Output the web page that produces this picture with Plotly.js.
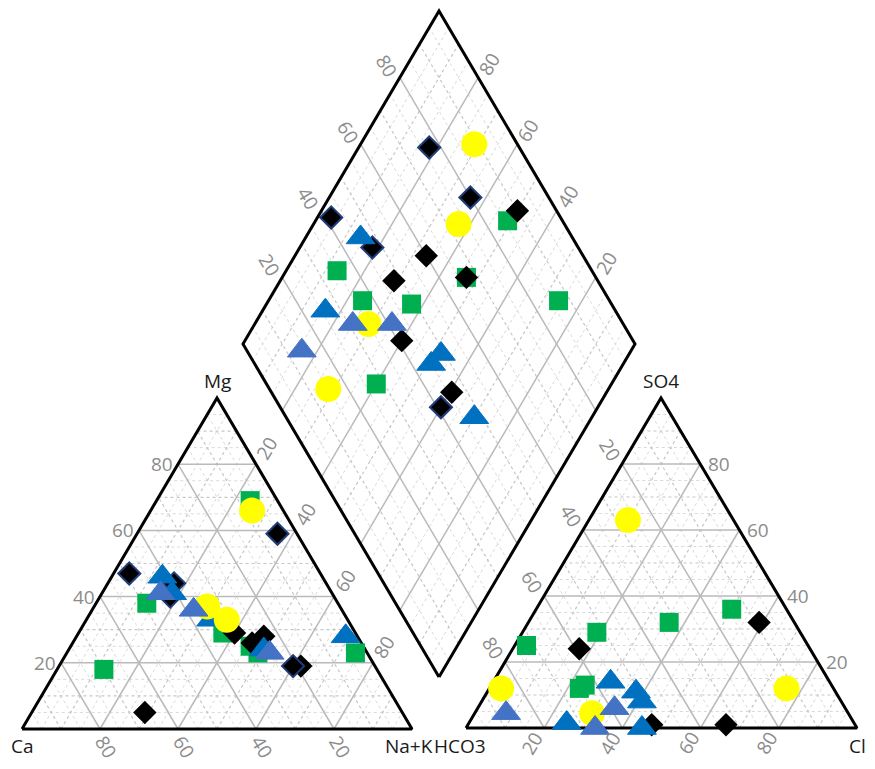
<!DOCTYPE html>
<html>
<head>
<meta charset="utf-8">
<script src="https://cdn.plot.ly/plotly-3.0.1.min.js"></script>
<style>
  body { margin: 0; background: #fff; }
  #piper { width: 875px; height: 769px; }
</style>
</head>
<body>
<div id="piper"></div>
<script>
// ---- cation triangle (left): % Mg, % Na+K ----
const catGreenMg   = [69, 38, 29, 25, 23, 23, 18];
const catGreenNaK  = [24, 13, 37, 46, 49, 74, 12];
const catBlackMg   = [29, 26, 28, 19, 5];
const catBlackNaK  = [40, 46, 48, 62, 29];
const catNavyMg    = [59, 47, 44, 40, 19];
const catNavyNaK   = [36, 4, 17, 18, 60];
const catBlueMg    = [46, 41, 33, 24, 28];
const catBlueNaK   = [13, 18, 32, 50, 69];
const catSteelMg   = [41, 36, 23];
const catSteelNaK  = [15, 26, 52];
const catYellowMg  = [66, 37, 33];
const catYellowNaK = [26, 29, 36];

// ---- anion triangle (right): % SO4, % Cl ----
const anGreenSO4   = [36, 32, 29, 25, 12, 13];
const anGreenCl    = [50, 36, 19, 3, 23, 24];
const anBlackSO4   = [24, 32, 1, 1];
const anBlackCl    = [17, 59, 47, 66];
const anBlueSO4    = [14, 11, 8, 1.5, 0];
const anBlueCl     = [30, 38, 41, 25, 45];
const anSteelSO4   = [6, 4.5, 0];
const anSteelCl    = [35, 8, 33];
const anYellowSO4  = [63, 12, 4.5, 12];
const anYellowCl   = [10, 3, 30, 76];

// ---- diamond: % (SO4+Cl), % (Ca+Mg) ----
const diaGreenS    = [86, 35, 67, 37, 49, 87, 28];
const diaGreenCM   = [51, 87, 53, 76, 63, 26, 60];
const diaBlackS    = [90, 60, 67, 48, 41, 46];
const diaBlackCM   = [50, 66.5, 53, 71, 60, 39.5];
const diaNavyS     = [77, 80, 41.5, 47.5, 41];
const diaNavyCM    = [82, 64, 96.5, 81.5, 40];
const diaBlueS     = [46, 26, 49, 45, 48];
const diaBlueCM    = [86, 84, 48, 49, 30];
const diaSteelS    = [31, 41, 14];
const diaSteelCM   = [75, 65, 84];
const diaYellowS   = [89, 73, 35, 15];
const diaYellowCM  = [71, 63, 71, 71.5];

const tickVals = [20, 40, 60, 80];

/* -----------------------------
   Geometry of the three plots
------------------------------*/
const CAT = { ca: [22, 729], nak: [412, 729], mg: [217, 398] };
const AN  = { hco3: [466, 728], cl: [857, 728], so4: [661, 398] };
const DIA = { bottom: [439, 677], left: [243, 344], right: [635, 344] };

function catXY(mg, nak) {
    const m = mg / 100, n = nak / 100, c = 1 - m - n;
    return [CAT.ca[0] * c + CAT.nak[0] * n + CAT.mg[0] * m,
            CAT.ca[1] * c + CAT.nak[1] * n + CAT.mg[1] * m];
}
function anXY(so4, cl) {
    const s = so4 / 100, c = cl / 100, h = 1 - s - c;
    return [AN.hco3[0] * h + AN.cl[0] * c + AN.so4[0] * s,
            AN.hco3[1] * h + AN.cl[1] * c + AN.so4[1] * s];
}
function diaXY(s, cm) {
    const a = s / 100, b = cm / 100, B = DIA.bottom;
    return [B[0] + a * (DIA.right[0] - B[0]) + b * (DIA.left[0] - B[0]),
            B[1] + a * (DIA.right[1] - B[1]) + b * (DIA.left[1] - B[1])];
}

/* -----------------------------
   Grid lines
------------------------------*/
const grid = { minor: { x: [], y: [] }, mid: { x: [], y: [] }, major: { x: [], y: [] } };

function addSeg(level, p, q) {
    grid[level].x.push(p[0], q[0], null);
    grid[level].y.push(p[1], q[1], null);
}

for (let k = 5; k < 100; k += 5) {
    const level = k % 20 === 0 ? "major" : (k % 10 === 0 ? "mid" : "minor");
    // cations
    addSeg(level, catXY(k, 0), catXY(k, 100 - k));
    addSeg(level, catXY(0, 100 - k), catXY(100 - k, 0));
    addSeg(level, catXY(0, k), catXY(100 - k, k));
    // anions
    addSeg(level, anXY(k, 0), anXY(k, 100 - k));
    addSeg(level, anXY(0, 100 - k), anXY(100 - k, 0));
    addSeg(level, anXY(0, k), anXY(100 - k, k));
    // diamond
    addSeg(level, diaXY(k, 0), diaXY(k, 100));
    addSeg(level, diaXY(0, k), diaXY(100, k));
}

function outline() {
    const pts = [catXY(0, 0), catXY(0, 100), catXY(100, 0), catXY(0, 0), null,
                 anXY(0, 0), anXY(0, 100), anXY(100, 0), anXY(0, 0), null,
                 diaXY(0, 0), diaXY(100, 0), diaXY(100, 100), diaXY(0, 100), diaXY(0, 0)];
    return {
        x: pts.map(p => p ? p[0] : null),
        y: pts.map(p => p ? p[1] : null)
    };
}

/* -----------------------------
   Sample markers
------------------------------*/
function groupXY(catMg, catNaK, anSO4, anCl, diaS, diaCM) {
    const pts = [];
    catMg.forEach((m, i) => pts.push(catXY(m, catNaK[i])));
    anSO4.forEach((s, i) => pts.push(anXY(s, anCl[i])));
    diaS.forEach((s, i) => pts.push(diaXY(s, diaCM[i])));
    return { x: pts.map(p => p[0]), y: pts.map(p => p[1]) };
}

function markerTrace(xy, marker) {
    return { type: "scatter", mode: "markers", x: xy.x, y: xy.y, marker, hoverinfo: "skip", cliponaxis: false };
}

const traces = [
    { type: "scatter", mode: "lines", x: grid.minor.x, y: grid.minor.y,
      line: { color: "#d9d9d9", width: 1, dash: "dot" }, hoverinfo: "skip" },
    { type: "scatter", mode: "lines", x: grid.mid.x, y: grid.mid.y,
      line: { color: "#c6c6c6", width: 1.2, dash: "dot" }, hoverinfo: "skip" },
    { type: "scatter", mode: "lines", x: grid.major.x, y: grid.major.y,
      line: { color: "#bababa", width: 1.5 }, hoverinfo: "skip" },
    Object.assign({ type: "scatter", mode: "lines", line: { color: "#000", width: 3 }, hoverinfo: "skip" }, outline()),

    markerTrace(groupXY(catGreenMg, catGreenNaK, anGreenSO4, anGreenCl, diaGreenS, diaGreenCM),
        { symbol: "square", size: 19, color: "#00b050", line: { width: 0 } }),
    markerTrace(groupXY(catBlackMg, catBlackNaK, anBlackSO4, anBlackCl, diaBlackS, diaBlackCM),
        { symbol: "diamond", size: 18, color: "#000", line: { width: 0 } }),
    markerTrace(groupXY(catNavyMg, catNavyNaK, [], [], diaNavyS, diaNavyCM),
        { symbol: "diamond", size: 17, color: "#000", line: { width: 2, color: "#1f3d7a" } }),
    markerTrace(groupXY(catBlueMg, catBlueNaK, anBlueSO4, anBlueCl, diaBlueS, diaBlueCM),
        { symbol: "triangle-up", size: 25, color: "#0070c0", line: { width: 1, color: "#0070c0" } }),
    markerTrace(groupXY(catYellowMg, catYellowNaK, anYellowSO4, anYellowCl, diaYellowS, diaYellowCM),
        { symbol: "circle", size: 26, color: "#ffff00", line: { width: 0 } }),
    markerTrace(groupXY(catSteelMg, catSteelNaK, anSteelSO4, anSteelCl, diaSteelS, diaSteelCM),
        { symbol: "triangle-up", size: 25, color: "#4472c4", line: { width: 1, color: "#4472c4" } })
];

/* -----------------------------
   Tick labels and axis names
------------------------------*/
const FONT = "Segoe UI, Open Sans, sans-serif";
const annotations = [];

function tick(p, dx, dy, text, angle, xanchor) {
    annotations.push({
        x: p[0] + dx, y: p[1] + dy, text: String(text), textangle: angle,
        showarrow: false, xanchor: xanchor || "center", yanchor: "middle",
        font: { family: FONT, size: 19, color: "#8c8c8c" }
    });
}
function name(x, y, text, xanchor) {
    annotations.push({
        x, y, text, showarrow: false, xanchor: xanchor || "center", yanchor: "middle",
        font: { family: FONT, size: 19, color: "#1a1a1a" }
    });
}

tickVals.forEach(k => {
    tick(catXY(k, 0), -3, 0, k, 0, "right");          // Mg
    tick(catXY(0, 100 - k), 6, 18, k, 59);            // Ca
    tick(catXY(100 - k, k), 11, -16, k, -59);         // Na+K
    tick(anXY(k, 100 - k), 6, 0, k, 0, "left");       // SO4
    tick(anXY(100 - k, 0), -12, -14, k, 59);          // HCO3
    tick(anXY(0, k), -12, 15, k, -59);                // Cl
    tick(diaXY(k, 100), -13, -12, k, 59);             // SO4+Cl
    tick(diaXY(100, k), 11, -14, k, -59);             // Ca+Mg
});

name(CAT.mg[0], CAT.mg[1] - 17, "Mg");
name(AN.so4[0], AN.so4[1] - 17, "SO4");
name(CAT.ca[0], CAT.ca[1] + 17, "Ca");
name(CAT.nak[0] + 23, CAT.nak[1] + 17, "Na+K", "right");
name(AN.hco3[0] - 34, AN.hco3[1] + 18, "HCO3", "left");
name(AN.cl[0], AN.cl[1] + 18, "Cl");

const layout = {
    width: 875,
    height: 769,
    margin: { l: 0, r: 0, t: 0, b: 0 },
    paper_bgcolor: "#fff",
    plot_bgcolor: "#fff",
    showlegend: false,
    hovermode: false,
    xaxis: { range: [0, 875], visible: false, fixedrange: true },
    yaxis: { range: [769, 0], visible: false, fixedrange: true },
    annotations
};

Plotly.newPlot("piper", traces, layout, { staticPlot: true, displayModeBar: false });
</script>
</body>
</html>
